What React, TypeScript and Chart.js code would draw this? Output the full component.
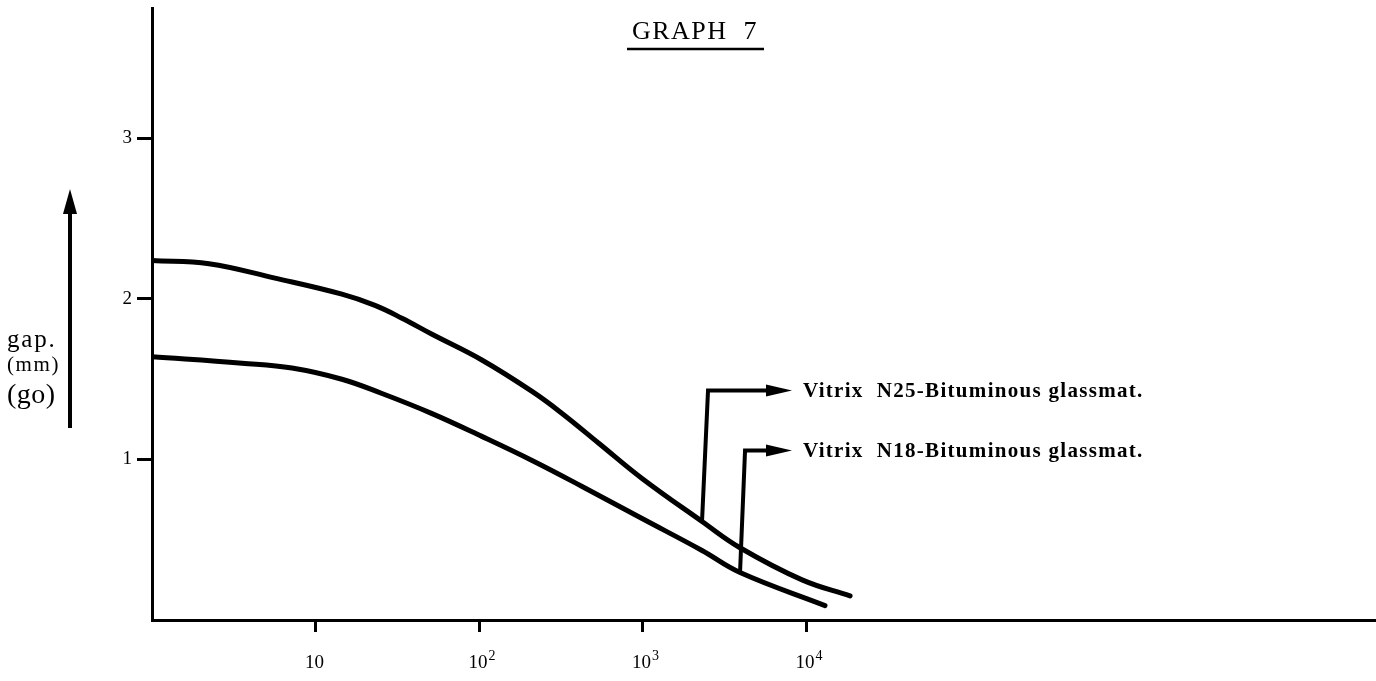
import { useEffect, useRef } from "react";
import { Chart, registerables } from "chart.js";

Chart.register(...registerables);

const FONT = "'Liberation Serif', 'DejaVu Serif', serif";

const chartTitle = "GRAPH  7";
const yTitleLines = ["gap.", "(mm)", "(go)"];

const xTickValues = [10, 100, 1000, 10000];
const xTickBases = ["10", "10", "10", "10"];
const xTickExponents = ["", "2", "3", "4"];
const yTickValues = [1, 2, 3];
const yTickLabels = ["1", "2", "3"];

const xMin = 1;
const xMax = 3.06e7;
const yMin = 0;
const yMax = 3.813;

// Vitrix N25 curve
const n25X = [1, 2.23, 5.65, 14.5, 23.1, 33.8, 51.6, 104, 211, 322, 542, 993, 2311, 3947, 9457, 18590];
const n25Y = [2.24, 2.22, 2.13, 2.03, 1.96, 1.88, 1.78, 1.62, 1.424, 1.287, 1.1, 0.882, 0.614, 0.45, 0.25, 0.15];

// Vitrix N18 curve
const n18X = [1, 3.55, 7.18, 14.5, 25.5, 51.6, 104, 211, 427, 993, 2311, 3947, 13060];
const n18Y = [1.64, 1.6, 1.57, 1.5, 1.411, 1.286, 1.144, 0.994, 0.832, 0.632, 0.433, 0.296, 0.09];

// pointer lines (label leaders)
const n25PointerX = [2311, 2515, 5770];
const n25PointerY = [0.614, 1.43, 1.43];
const n18PointerX = [3947, 4236, 5770];
const n18PointerY = [0.296, 1.056, 1.056];

const seriesLabels = ["Vitrix  N25-Bituminous glassmat.", "Vitrix  N18-Bituminous glassmat."];

const zip = (xs: number[], ys: number[]) => xs.map((x, i) => ({ x, y: ys[i] }));

const decorations = {
  id: "decorations",
  afterDraw(chart: any) {
    const ctx = chart.ctx as CanvasRenderingContext2D;
    const xs = chart.scales.x;
    const ys = chart.scales.y;
    ctx.save();
    ctx.fillStyle = "#000";
    ctx.strokeStyle = "#000";

    // title with underline
    ctx.font = `26px ${FONT}`;
    (ctx as any).letterSpacing = "1.5px";
    ctx.textAlign = "center";
    ctx.textBaseline = "alphabetic";
    ctx.fillText(chartTitle, 695, 39);
    (ctx as any).letterSpacing = "0px";
    ctx.lineWidth = 2.5;
    ctx.beginPath();
    ctx.moveTo(627, 49);
    ctx.lineTo(764, 49);
    ctx.stroke();

    // x tick labels with superscript exponents
    const bottom = chart.chartArea.bottom;
    xTickValues.forEach((v, i) => {
      const px = xs.getPixelForValue(v);
      ctx.font = `19px ${FONT}`;
      ctx.textAlign = "center";
      ctx.textBaseline = "alphabetic";
      const baseY = bottom + 48;
      ctx.fillText(xTickBases[i], px - 1, baseY);
      if (xTickExponents[i]) {
        const w = ctx.measureText(xTickBases[i]).width;
        ctx.font = `14px ${FONT}`;
        ctx.textAlign = "left";
        ctx.fillText(xTickExponents[i], px - 1 + w / 2 + 1, baseY - 8);
      }
    });

    // y axis title
    ctx.textAlign = "left";
    ctx.textBaseline = "middle";
    ctx.font = `25px ${FONT}`;
    (ctx as any).letterSpacing = "1.8px";
    ctx.fillText(yTitleLines[0], 7, 340);
    ctx.font = `21px ${FONT}`;
    (ctx as any).letterSpacing = "1.6px";
    ctx.fillText(yTitleLines[1], 7, 365);
    ctx.font = `28px ${FONT}`;
    (ctx as any).letterSpacing = "0.5px";
    ctx.fillText(yTitleLines[2], 7, 396);
    (ctx as any).letterSpacing = "0px";

    // y axis arrow
    ctx.lineWidth = 4;
    ctx.beginPath();
    ctx.moveTo(70, 428);
    ctx.lineTo(70, 208);
    ctx.stroke();
    ctx.beginPath();
    ctx.moveTo(70, 189);
    ctx.lineTo(77, 214);
    ctx.lineTo(63, 214);
    ctx.closePath();
    ctx.fill();

    // pointer arrowheads and labels
    const pointers = [
      { x: n25PointerX, y: n25PointerY, label: seriesLabels[0] },
      { x: n18PointerX, y: n18PointerY, label: seriesLabels[1] },
    ];
    ctx.font = `bold 21px ${FONT}`;
    ctx.textAlign = "left";
    ctx.textBaseline = "middle";
    for (const p of pointers) {
      const n = p.x.length - 1;
      const px = xs.getPixelForValue(p.x[n]);
      const py = ys.getPixelForValue(p.y[n]);
      ctx.beginPath();
      ctx.moveTo(px - 1, py - 6);
      ctx.lineTo(px + 25, py);
      ctx.lineTo(px - 1, py + 6);
      ctx.closePath();
      ctx.fill();
      (ctx as any).letterSpacing = "1.3px";
      ctx.fillText(p.label, px + 36, py + 1);
      (ctx as any).letterSpacing = "0px";
    }
    ctx.restore();
  },
};

export default function App() {
  const ref = useRef<HTMLCanvasElement>(null);
  useEffect(() => {
    if (!ref.current) return;
    const curveStyle = {
      borderColor: "#000",
      borderWidth: 5,
      pointRadius: 0,
      tension: 0.4,
      fill: false,
      borderCapStyle: "round" as const,
    };
    const pointerStyle = {
      borderColor: "#000",
      borderWidth: 4,
      pointRadius: 0,
      tension: 0,
      fill: false,
      borderJoinStyle: "miter" as const,
    };
    const chart = new Chart(ref.current, {
      type: "line",
      data: {
        datasets: [
          { label: seriesLabels[0], data: zip(n25X, n25Y), ...curveStyle },
          { label: seriesLabels[1], data: zip(n18X, n18Y), ...curveStyle },
          { label: "n25 pointer", data: zip(n25PointerX, n25PointerY), ...pointerStyle },
          { label: "n18 pointer", data: zip(n18PointerX, n18PointerY), ...pointerStyle },
        ],
      },
      options: {
        animation: false,
        responsive: false,
        layout: { padding: { top: 8, left: 0, right: 0, bottom: 0 } },
        plugins: {
          legend: { display: false },
          tooltip: { enabled: false },
          title: { display: false },
        },
        scales: {
          x: {
            type: "logarithmic",
            min: xMin,
            max: xMax,
            afterBuildTicks: (s: any) => {
              s.ticks = xTickValues.map((v) => ({ value: v }));
            },
            afterFit: (s: any) => {
              s.height = 61;
              s.paddingLeft = 0;
              s.paddingRight = 0;
            },
            ticks: {
              display: false,
              autoSkip: false,
              maxRotation: 0,
              minRotation: 0,
            },
            grid: {
              drawOnChartArea: false,
              drawTicks: true,
              tickLength: 12,
              tickWidth: 3,
              tickColor: "#000",
            },
            border: { display: true, color: "#000", width: 3 },
          },
          y: {
            type: "linear",
            min: yMin,
            max: yMax,
            afterBuildTicks: (s: any) => {
              s.ticks = yTickValues.map((v) => ({ value: v }));
            },
            afterFit: (s: any) => {
              s.width = 152;
              s.paddingTop = 0;
              s.paddingBottom = 0;
            },
            ticks: {
              color: "#000",
              padding: 5,
              font: { family: FONT, size: 19 },
              callback: (_v: any, i: number) => yTickLabels[i],
            },
            grid: {
              drawOnChartArea: false,
              drawTicks: true,
              tickLength: 15,
              tickWidth: 3,
              tickColor: "#000",
            },
            border: { display: true, color: "#000", width: 3 },
          },
        },
      },
      plugins: [decorations],
    });
    return () => chart.destroy();
  }, []);
  return (
    <div style={{ position: "absolute", left: 0, top: 0, width: 1376, height: 681, background: "#fff" }}>
      <canvas ref={ref} width={1376} height={681} style={{ display: "block" }} />
    </div>
  );
}
